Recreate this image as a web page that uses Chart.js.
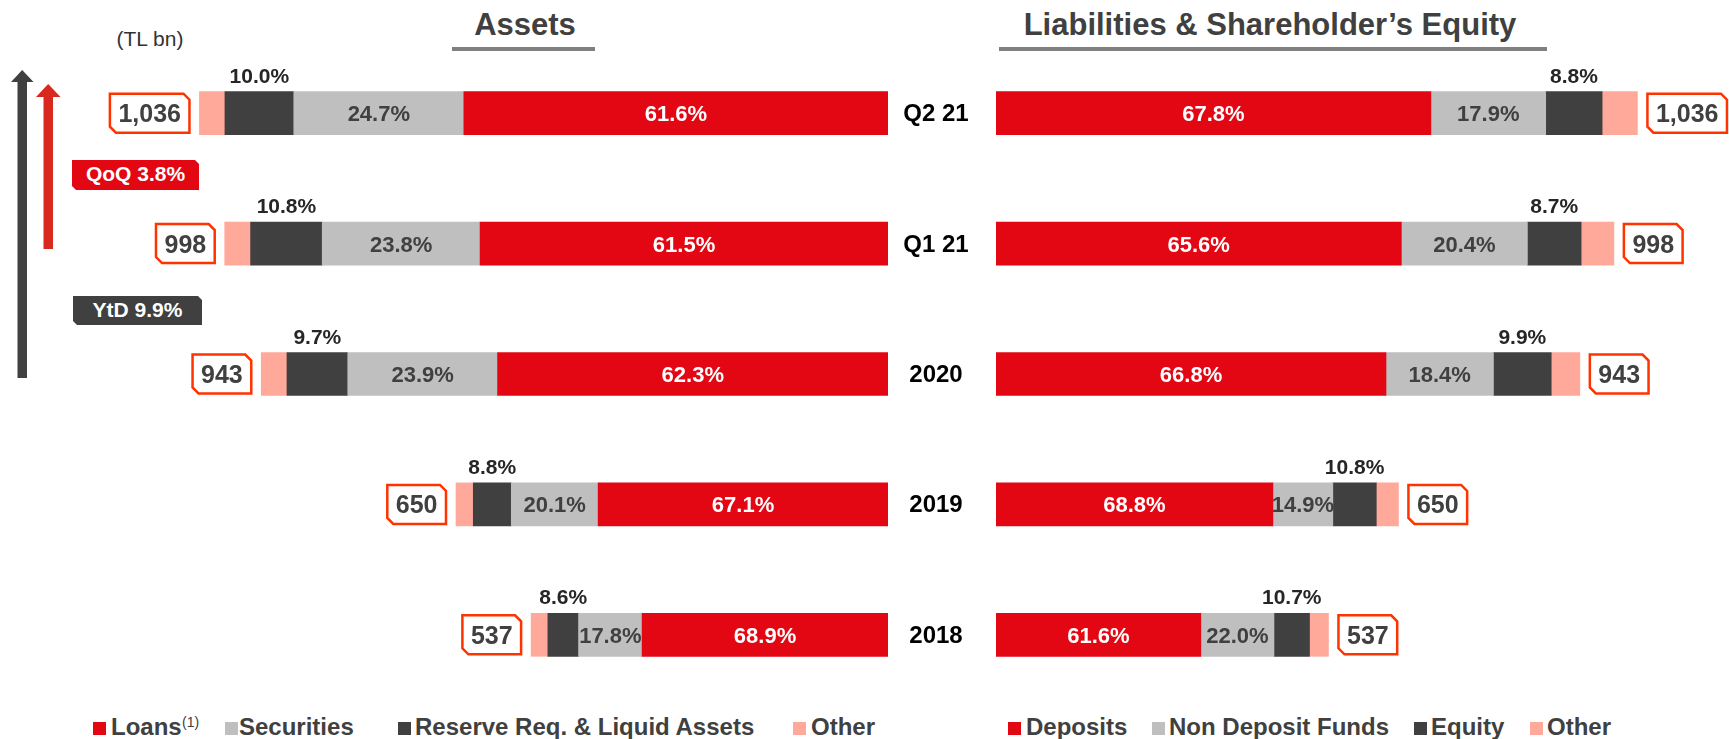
<!DOCTYPE html>
<html><head><meta charset="utf-8">
<script src="https://cdn.jsdelivr.net/npm/chart.js@4/dist/chart.umd.min.js"></script>
<style>
html,body{margin:0;padding:0;background:#fff;width:1729px;height:739px;overflow:hidden;}
#deco{position:absolute;left:0;top:0;}
#left{position:absolute;left:0;top:0;}
#right{position:absolute;left:990px;top:0;}
</style></head><body>
<svg id="deco" width="1729" height="739" font-family="'Liberation Sans', Arial, Helvetica, sans-serif">
  <text x="150" y="46" font-size="21" fill="#333" text-anchor="middle">(TL bn)</text>
  <text x="525" y="35" font-size="31" font-weight="bold" fill="#404040" text-anchor="middle">Assets</text>
  <rect x="452" y="47" width="143" height="4" fill="#808080"/>
  <text x="1270" y="35" font-size="31" font-weight="bold" fill="#404040" text-anchor="middle">Liabilities &amp; Shareholder’s Equity</text>
  <rect x="999" y="47" width="548" height="4" fill="#808080"/>
  <rect x="17.5" y="80" width="9.5" height="298" fill="#404040"/>
  <polygon points="11,82 22.2,70 33.5,82" fill="#404040"/>
  <rect x="43.5" y="95" width="9.5" height="154" fill="#D9281D"/>
  <polygon points="36,97 48.2,84 60.5,97" fill="#D9281D"/>
  <path d="M72,160 H195 L199,164 V190 H76 L72,186 Z" fill="#E30613"/>
  <text x="135.5" y="181" font-size="21" font-weight="bold" fill="#fff" text-anchor="middle">QoQ 3.8%</text>
  <path d="M73,296 H198 L202,300 V325 H77 L73,321 Z" fill="#404040"/>
  <text x="137.5" y="317" font-size="21" font-weight="bold" fill="#fff" text-anchor="middle">YtD 9.9%</text>
  <g font-size="24" font-weight="bold" fill="#404040">
    <rect x="93" y="722" width="13" height="13" fill="#E30613"/>
    <text x="111" y="735">Loans</text>
    <text x="182" y="727" font-size="14" font-weight="normal">(1)</text>
    <rect x="225" y="722" width="13" height="13" fill="#BFBFBF"/>
    <text x="239" y="735">Securities</text>
    <rect x="398" y="722" width="13" height="13" fill="#404040"/>
    <text x="415" y="735">Reserve Req. &amp; Liquid Assets</text>
    <rect x="793" y="722" width="13" height="13" fill="#FFA99B"/>
    <text x="811" y="735">Other</text>
    <rect x="1008" y="722" width="13" height="13" fill="#E30613"/>
    <text x="1026" y="735">Deposits</text>
    <rect x="1152" y="722" width="13" height="13" fill="#BFBFBF"/>
    <text x="1169" y="735">Non Deposit Funds</text>
    <rect x="1414" y="722" width="13" height="13" fill="#404040"/>
    <text x="1431" y="735">Equity</text>
    <rect x="1530" y="722" width="13" height="13" fill="#FFA99B"/>
    <text x="1547" y="735">Other</text>
  </g>
</svg>
<canvas id="left" width="990" height="739"></canvas>
<canvas id="right" width="739" height="739"></canvas>
<script>
const categories = ['Q2 21', 'Q1 21', '2020', '2019', '2018'];
const totals = [1036, 998, 943, 650, 537];
const totalLabels = ['1,036', '998', '943', '650', '537'];
// Assets composition (%)
const loansPct = [61.6, 61.5, 62.3, 67.1, 68.9];
const securitiesPct = [24.7, 23.8, 23.9, 20.1, 17.8];
const reservePct = [10.0, 10.8, 9.7, 8.8, 8.6];
const otherAssetsPct = [3.7, 3.9, 4.1, 4.0, 4.7];
// Liabilities & equity composition (%)
const depositsPct = [67.8, 65.6, 66.8, 68.8, 61.6];
const nonDepositPct = [17.9, 20.4, 18.4, 14.9, 22.0];
const equityPct = [8.8, 8.7, 9.9, 10.8, 10.7];
const otherLiabPct = [5.5, 5.3, 4.9, 5.5, 5.7];

const RED = '#E30613', LGRAY = '#BFBFBF', DGRAY = '#404040', PINK = '#FFA99B';
const FONT = '"Liberation Sans", Arial, Helvetica, sans-serif';

function amounts(pct) { return totals.map((t, i) => t * pct[i] / 100); }

function cutBox(ctx, x, y, w, h, c) {
  ctx.beginPath();
  ctx.moveTo(x, y);
  ctx.lineTo(x + w - c, y);
  ctx.lineTo(x + w, y + c);
  ctx.lineTo(x + w, y + h);
  ctx.lineTo(x + c, y + h);
  ctx.lineTo(x, y + h - c);
  ctx.closePath();
}
const mid = el => (el.x + el.base) / 2;
const fmt = v => v.toFixed(1) + '%';

function labelPlugin(side, p0, p1, p2) {
  return {
    id: 'labels_' + side,
    afterDatasetsDraw(chart) {
      const ctx = chart.ctx;
      ctx.save();
      const m = [0, 1, 2, 3].map(k => chart.getDatasetMeta(k));
      categories.forEach((cat, i) => {
        const e0 = m[0].data[i], e1 = m[1].data[i], e2 = m[2].data[i], e3 = m[3].data[i];
        const yc = e0.y, top = yc - e0.height / 2;
        ctx.textAlign = 'center';
        ctx.textBaseline = 'alphabetic';
        ctx.font = 'bold 22px ' + FONT;
        ctx.fillStyle = '#fff';
        ctx.fillText(fmt(p0[i]), mid(e0), yc + 8);
        ctx.fillStyle = '#404040';
        ctx.fillText(fmt(p1[i]), mid(e1), yc + 8);
        ctx.font = 'bold 21px ' + FONT;
        ctx.fillStyle = '#262626';
        ctx.fillText(fmt(p2[i]), mid(e2), top - 9);
        // total box
        ctx.font = 'bold 25px ' + FONT;
        const tw = ctx.measureText(totalLabels[i]).width;
        const bw = tw + 17, bh = 39;
        const bx = side === 'left' ? e3.x - 10 - bw : e3.x + 10;
        const by = yc - bh / 2;
        cutBox(ctx, bx, by, bw, bh, 6);
        ctx.fillStyle = '#fff';
        ctx.fill();
        ctx.lineWidth = 2.5;
        ctx.strokeStyle = '#FF3300';
        ctx.stroke();
        ctx.fillStyle = '#404040';
        ctx.fillText(totalLabels[i], bx + bw / 2, yc + 9);
        if (side === 'left') {
          ctx.font = 'bold 24px ' + FONT;
          ctx.fillStyle = '#000';
          ctx.fillText(cat, chart.chartArea.right + 48, yc + 8);
        }
      });
      ctx.restore();
    }
  };
}

function makeChart(id, side, sets, p0, p1, p2, max, padding) {
  return new Chart(document.getElementById(id), {
    type: 'bar',
    data: {
      labels: categories,
      datasets: sets.map(s => ({
        label: s.label, data: s.data, backgroundColor: s.color,
        borderWidth: 0, barThickness: 43
      }))
    },
    options: {
      responsive: false,
      animation: false,
      indexAxis: 'y',
      layout: { padding: padding },
      plugins: { legend: { display: false }, tooltip: { enabled: false } },
      scales: {
        x: { stacked: true, display: false, min: 0, max: max, reverse: side === 'left' },
        y: { stacked: true, display: false }
      }
    },
    plugins: [labelPlugin(side, p0, p1, p2)]
  });
}

makeChart('left', 'left', [
  { label: 'Loans', data: amounts(loansPct), color: RED },
  { label: 'Securities', data: amounts(securitiesPct), color: LGRAY },
  { label: 'Reserve Req. & Liquid Assets', data: amounts(reservePct), color: DGRAY },
  { label: 'Other', data: amounts(otherAssetsPct), color: PINK }
], loansPct, securitiesPct, reservePct, 1300, { left: 24, right: 102, top: 48, bottom: 39 });

makeChart('right', 'right', [
  { label: 'Deposits', data: amounts(depositsPct), color: RED },
  { label: 'Non Deposit Funds', data: amounts(nonDepositPct), color: LGRAY },
  { label: 'Equity', data: amounts(equityPct), color: DGRAY },
  { label: 'Other', data: amounts(otherLiabPct), color: PINK }
], depositsPct, nonDepositPct, equityPct, 1150, { left: 6, right: 21, top: 48, bottom: 39 });
</script>
</body></html>
